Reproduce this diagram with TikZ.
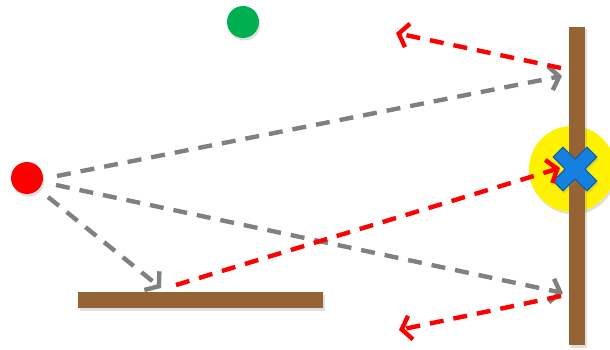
\documentclass[tikz,border=0pt]{standalone}
\usetikzlibrary{arrows.meta,shadows}
\definecolor{wallbrown}{RGB}{150,100,52}
\definecolor{raygray}{RGB}{128,128,128}
\definecolor{rayred}{RGB}{255,0,0}
\definecolor{ballgreen}{RGB}{0,176,80}
\definecolor{xblue}{RGB}{22,128,222}
\definecolor{xborder}{RGB}{20,90,160}
\tikzset{
  ray/.style={line width=4.4pt, dash pattern=on 14pt off 10pt,
    -{Straight Barb[length=9pt,width=24pt,line width=4.4pt]}},
  grayray/.style={ray, draw=raygray},
  redray/.style={ray, draw=rayred},
  softshadow/.style={drop shadow={opacity=0.25, shadow xshift=1.5pt, shadow yshift=-2.5pt}},
  ball/.style={circle, minimum size=32pt, inner sep=0pt, softshadow},
  board/.style={fill=wallbrown, softshadow}
}
\begin{document}
\begin{tikzpicture}[x=1pt,y=-1pt]
\useasboundingbox (0,0) rectangle (610,350);
% yellow highlight
\node[circle, fill=yellow, minimum size=86pt, inner sep=0pt, softshadow] (glow) at (572,169) {};
% wall and floor
\path[board] (569,27) rectangle (585,345);
\path[board] (78,292) rectangle (323,308);
% blue cross
\begin{scope}[shift={(575,169)}, rotate=45]
  \filldraw[fill=xblue, draw=xborder, line width=1pt, line join=round, softshadow]
    (-7,-24)--(7,-24)--(7,-7)--(24,-7)--(24,7)--(7,7)--(7,24)--(-7,24)--(-7,7)--(-24,7)--(-24,-7)--(-7,-7)--cycle;
\end{scope}
% balls
\node[ball, fill=red] (src) at (27,178) {};
\node[ball, fill=ballgreen] (rcv) at (243,22) {};
% coordinates
\coordinate (s1) at (57,176);
\coordinate (s2) at (56,185);
\coordinate (s3) at (48,197);
\coordinate (w1) at (562,76);
\coordinate (w2) at (563,293);
\coordinate (f1) at (161,288);
\coordinate (f1o) at (176,285);
\coordinate (xhit) at (560,168);
\coordinate (w1o) at (561,68);
\coordinate (o1) at (396,33);
\coordinate (w2o) at (561,296);
\coordinate (o2) at (399,330);
% rays
\draw[grayray] (s1) -- (w1);
\draw[grayray] (s2) -- (w2);
\draw[grayray] (s3) -- (f1);
\draw[redray] (w1o) -- (o1);
\draw[redray] (f1o) -- (xhit);
\draw[redray] (w2o) -- (o2);
\end{tikzpicture}
\end{document}
